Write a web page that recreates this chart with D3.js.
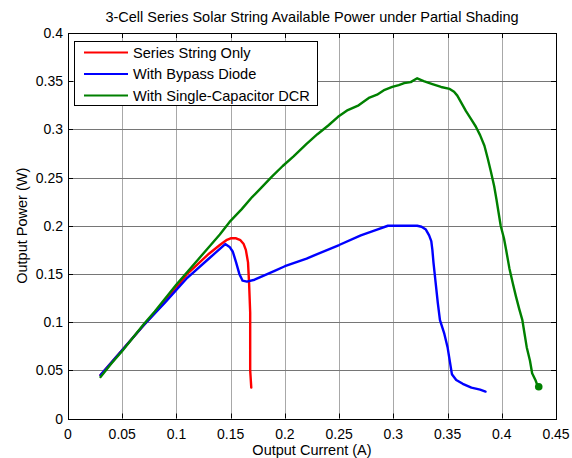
<!DOCTYPE html>
<html>
<head>
<meta charset="utf-8">
<script src="https://cdn.jsdelivr.net/npm/d3@7"></script>
<style>
    body { margin: 0; background: #fff; }
    svg { font-family: "Liberation Sans", Arial, sans-serif; }
    .vgrid { stroke: #a8a8a8; stroke-width: 1; }
    .hgrid { stroke: #767676; stroke-width: 1; }
    .tick-mark { stroke: #000; stroke-width: 1; }
    .series { fill: none; stroke-width: 2.4; stroke-linejoin: round; stroke-linecap: round; }
</style>
</head>
<body>
<script>
//chart values
var title = "3-Cell Series Solar String Available Power under Partial Shading",
    xLabel = "Output Current (A)",
    yLabel = "Output Power (W)";

var xTicks = [0, 0.05, 0.1, 0.15, 0.2, 0.25, 0.3, 0.35, 0.4, 0.45],
    yTicks = [0, 0.05, 0.1, 0.15, 0.2, 0.25, 0.3, 0.35, 0.4];

var seriesNames = ["Series String Only", "With Bypass Diode", "With Single-Capacitor DCR"],
    seriesColors = ["#ff0000", "#0000ff", "#008000"];

//series string only: [current, power]
var stringOnly = [
    [0.030, 0.045], [0.05, 0.071], [0.07, 0.097], [0.09, 0.122], [0.11, 0.150],
    [0.13, 0.171], [0.14, 0.180], [0.146, 0.185], [0.150, 0.187], [0.155, 0.187],
    [0.159, 0.185], [0.162, 0.181], [0.164, 0.175], [0.166, 0.162], [0.167, 0.140],
    [0.168, 0.110], [0.168, 0.080], [0.168, 0.050], [0.169, 0.032]
];

//with bypass diode
var bypassDiode = [
    [0.030, 0.045], [0.05, 0.071], [0.07, 0.097], [0.09, 0.121], [0.11, 0.146],
    [0.13, 0.166], [0.145, 0.181], [0.149, 0.178], [0.152, 0.173], [0.155, 0.162],
    [0.158, 0.150], [0.161, 0.143], [0.165, 0.142], [0.172, 0.144], [0.180, 0.148],
    [0.19, 0.153], [0.20, 0.158], [0.22, 0.166], [0.25, 0.180], [0.27, 0.190],
    [0.285, 0.196], [0.295, 0.200], [0.322, 0.200], [0.326, 0.199], [0.330, 0.196],
    [0.333, 0.190], [0.335, 0.184], [0.336, 0.175], [0.337, 0.162], [0.339, 0.141],
    [0.341, 0.120], [0.343, 0.102], [0.347, 0.088], [0.350, 0.074], [0.352, 0.060],
    [0.354, 0.046], [0.358, 0.040], [0.364, 0.036], [0.372, 0.032], [0.380, 0.030],
    [0.385, 0.028]
];

//with single-capacitor DCR
var capacitorDCR = [
    [0.030, 0.043], [0.04, 0.057], [0.05, 0.070], [0.06, 0.084], [0.07, 0.098],
    [0.08, 0.111], [0.09, 0.125], [0.10, 0.139], [0.11, 0.152], [0.12, 0.165],
    [0.13, 0.178], [0.14, 0.191], [0.149, 0.204], [0.16, 0.217], [0.17, 0.230],
    [0.177, 0.238], [0.188, 0.251], [0.198, 0.262], [0.208, 0.272], [0.22, 0.285],
    [0.23, 0.295], [0.24, 0.304], [0.249, 0.313], [0.258, 0.320], [0.268, 0.325],
    [0.278, 0.333], [0.285, 0.336], [0.292, 0.341], [0.299, 0.344], [0.305, 0.346],
    [0.31, 0.348], [0.316, 0.349], [0.322, 0.353], [0.328, 0.350], [0.336, 0.347],
    [0.344, 0.344], [0.352, 0.342], [0.356, 0.339], [0.359, 0.335], [0.363, 0.327],
    [0.367, 0.319], [0.372, 0.310], [0.376, 0.303], [0.380, 0.294], [0.384, 0.283],
    [0.387, 0.270], [0.390, 0.256], [0.393, 0.241], [0.395, 0.228], [0.397, 0.214],
    [0.399, 0.200], [0.402, 0.187], [0.404, 0.175], [0.407, 0.156], [0.410, 0.141],
    [0.413, 0.127], [0.416, 0.114], [0.419, 0.102], [0.421, 0.088], [0.423, 0.074],
    [0.426, 0.060], [0.428, 0.047], [0.431, 0.040], [0.433, 0.034], [0.435, 0.033]
];

window.onload = drawChart();

function drawChart(){

    var width = 572,
        height = 458;

    //plot box
    var left = 68, right = 556, top = 33, bottom = 418.5;

    var svg = d3.select("body")
        .append("svg")
        .attr("width", width)
        .attr("height", height);

    var x = d3.scaleLinear().domain([0, 0.45]).range([left, right]),
        y = d3.scaleLinear().domain([0, 0.4]).range([bottom, top]);

    var px = function(v){ return Math.round(v) + 0.5; };

    //grid lines
    svg.selectAll(".vgrid")
        .data(xTicks.slice(1, -1))
        .enter()
        .append("line")
        .attr("class", "vgrid")
        .attr("x1", function(d){ return px(x(d)); })
        .attr("x2", function(d){ return px(x(d)); })
        .attr("y1", top)
        .attr("y2", bottom);

    svg.selectAll(".hgrid")
        .data(yTicks.slice(1, -1))
        .enter()
        .append("line")
        .attr("class", "hgrid")
        .attr("x1", left)
        .attr("x2", right)
        .attr("y1", function(d){ return px(y(d)); })
        .attr("y2", function(d){ return px(y(d)); });

    //inward ticks on all four sides
    var tl = 5;
    xTicks.forEach(function(d){
        var xx = px(x(d));
        svg.append("line").attr("class", "tick-mark")
            .attr("x1", xx).attr("x2", xx).attr("y1", bottom).attr("y2", bottom - tl);
        svg.append("line").attr("class", "tick-mark")
            .attr("x1", xx).attr("x2", xx).attr("y1", top).attr("y2", top + tl);
    });
    yTicks.forEach(function(d){
        var yy = px(y(d));
        svg.append("line").attr("class", "tick-mark")
            .attr("x1", left).attr("x2", left + tl).attr("y1", yy).attr("y2", yy);
        svg.append("line").attr("class", "tick-mark")
            .attr("x1", right).attr("x2", right - tl).attr("y1", yy).attr("y2", yy);
    });

    //tick labels
    svg.selectAll(".xlab")
        .data(xTicks)
        .enter()
        .append("text")
        .attr("class", "xlab")
        .attr("x", function(d){ return x(d); })
        .attr("y", bottom + 20)
        .attr("text-anchor", "middle")
        .style("font-size", "14px")
        .text(function(d){ return d; });

    svg.selectAll(".ylab")
        .data(yTicks)
        .enter()
        .append("text")
        .attr("class", "ylab")
        .attr("x", left - 5)
        .attr("y", function(d){ return y(d) + 5; })
        .attr("text-anchor", "end")
        .style("font-size", "14px")
        .text(function(d){ return d; });

    //data lines
    var line = d3.line()
        .x(function(d){ return x(d[0]); })
        .y(function(d){ return y(d[1]); });

    var allSeries = [stringOnly, bypassDiode, capacitorDCR];

    svg.selectAll(".series")
        .data(allSeries)
        .enter()
        .append("path")
        .attr("class", "series")
        .attr("stroke", function(d, i){ return seriesColors[i]; })
        .attr("d", line);

    //cluster of points at the end of the DCR curve
    var last = capacitorDCR[capacitorDCR.length - 1];
    svg.append("circle")
        .attr("cx", x(last[0]) - 1)
        .attr("cy", y(last[1]))
        .attr("r", 3.8)
        .attr("fill", seriesColors[2]);

    //axes box
    svg.append("rect")
        .attr("x", px(left))
        .attr("y", px(top))
        .attr("width", Math.round(right) - Math.round(left))
        .attr("height", Math.round(bottom) - Math.round(top))
        .attr("fill", "none")
        .attr("stroke", "#000")
        .attr("stroke-width", 1);

    //legend
    var legend = svg.append("g");
    legend.append("rect")
        .attr("x", 74.5)
        .attr("y", 41.5)
        .attr("width", 243)
        .attr("height", 64)
        .attr("fill", "#fff")
        .attr("stroke", "#000");

    seriesNames.forEach(function(name, i){
        var ly = 52.5 + i * 21.5;
        legend.append("line")
            .attr("x1", 84).attr("x2", 128)
            .attr("y1", ly).attr("y2", ly)
            .attr("stroke", seriesColors[i])
            .attr("stroke-width", 2);
        legend.append("text")
            .attr("x", 133)
            .attr("y", ly + 5)
            .style("font-size", "14.6px")
            .text(name);
    });

    //title and axis labels
    svg.append("text")
        .attr("x", (left + right) / 2)
        .attr("y", 22)
        .attr("text-anchor", "middle")
        .style("font-size", "14.5px")
        .text(title);

    svg.append("text")
        .attr("x", (left + right) / 2)
        .attr("y", 455)
        .attr("text-anchor", "middle")
        .style("font-size", "14.5px")
        .text(xLabel);

    svg.append("text")
        .attr("transform", "translate(27," + ((top + bottom) / 2) + ") rotate(-90)")
        .attr("text-anchor", "middle")
        .style("font-size", "14.5px")
        .text(yLabel);
}
</script>
</body>
</html>
